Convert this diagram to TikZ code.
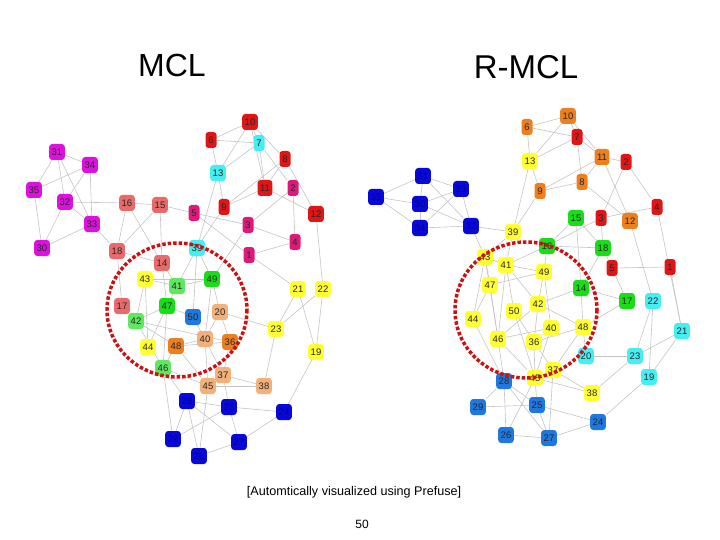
\documentclass[tikz,border=0pt]{standalone}
\usepackage{fontspec}
\setmainfont{Liberation Sans}
\pgfdeclarelayer{bg}
\pgfsetlayers{bg,main}
\definecolor{cmag}{HTML}{DD11DD}
\definecolor{csal}{HTML}{E86A6A}
\definecolor{cred}{HTML}{E01515}
\definecolor{ccya}{HTML}{44EEF2}
\definecolor{ccri}{HTML}{DD1A7A}
\definecolor{cyel}{HTML}{FFFF33}
\definecolor{clgr}{HTML}{60E660}
\definecolor{cgre}{HTML}{18DD18}
\definecolor{cmbl}{HTML}{1E78E0}
\definecolor{clor}{HTML}{F2B07A}
\definecolor{cora}{HTML}{EC7F1F}
\definecolor{cdbl}{HTML}{0808D8}
\definecolor{cedge}{HTML}{C4C4C4}
\definecolor{ccirc}{HTML}{CC1111}
\tikzset{
  gn/.style={rounded corners=3pt, minimum height=16pt, minimum width=11pt, inner xsep=2.5pt, inner ysep=0pt, font=\fontsize{9.5}{10}\selectfont, text=black!85},
  ge/.style={draw=cedge, line width=0.6pt},
  circ/.style={draw=ccirc, line width=3.5pt, dash pattern=on 3.5pt off 2pt},
}
\newcommand{\gnode}[4]{\node[gn, fill=#4] (#1) at (#2) {#3};}
\begin{document}
\begin{tikzpicture}[x=1pt,y=-1pt]
\useasboundingbox (0,0) rectangle (720,540);
\node[font=\fontsize{32}{36}\selectfont] (t1) at (172,65) {MCL};
\node[font=\fontsize{33}{36}\selectfont] (t2) at (526,67) {R-MCL};
\node[font=\fontsize{12.6}{14}\selectfont] (cap) at (354,492) {[Automtically visualized using Prefuse]};
\node[font=\fontsize{12}{14}\selectfont] (pg) at (362,524) {50};

% ---------------- left graph ----------------
\gnode{L31}{57,152}{31}{cmag}
\gnode{L34}{90,165}{34}{cmag}
\gnode{L35}{34,190}{35}{cmag}
\gnode{L32}{65,202}{32}{cmag}
\gnode{L33}{92,224}{33}{cmag}
\gnode{L30}{42,248}{30}{cmag}
\gnode{L16}{127,203}{16}{csal}
\gnode{L15}{160,205}{15}{csal}
\gnode{L18}{117,251}{18}{csal}
\gnode{L14}{162,263}{14}{csal}
\gnode{L17}{122,306}{17}{csal}
\gnode{L10}{250,122}{10}{cred}
\gnode{L6}{211,140}{6}{cred}
\gnode{L7}{259,143}{7}{ccya}
\gnode{L8}{285,159}{8}{cred}
\gnode{L13}{218,173}{13}{ccya}
\gnode{L11}{265,188}{11}{cred}
\gnode{L2}{293,188}{2}{ccri}
\gnode{L9}{224,207}{9}{cred}
\gnode{L12}{316,214}{12}{cred}
\gnode{L5}{194,213}{5}{ccri}
\gnode{L3}{248,225}{3}{ccri}
\gnode{L4}{295,242}{4}{ccri}
\gnode{L39}{197,248}{39}{ccya}
\gnode{L1}{249,255}{1}{ccri}
\gnode{L43}{145,279}{43}{cyel}
\gnode{L41}{177,286}{41}{clgr}
\gnode{L49}{212,279}{49}{cgre}
\gnode{L47}{167,306}{47}{cgre}
\gnode{L50}{193,317}{50}{cmbl}
\gnode{L20}{220,312}{20}{clor}
\gnode{L42}{136,321}{42}{clgr}
\gnode{L44}{148,347}{44}{cyel}
\gnode{L48}{176,346}{48}{cora}
\gnode{L40}{205,339}{40}{clor}
\gnode{L36}{230,342}{36}{cora}
\gnode{L46}{163,368}{46}{clgr}
\gnode{L37}{223,375}{37}{clor}
\gnode{L45}{208,386}{45}{clor}
\gnode{L38}{264,386}{38}{clor}
\gnode{L21}{298,289}{21}{cyel}
\gnode{L22}{323,289}{22}{cyel}
\gnode{L23}{276,329}{23}{cyel}
\gnode{L19}{316,352}{19}{cyel}
\node[gn, fill=cdbl, text=blue!60!black] (L28) at (187,401) {28};
\node[gn, fill=cdbl, text=blue!60!black] (L25) at (229,407) {25};
\node[gn, fill=cdbl, text=blue!60!black] (L24) at (284,412) {24};
\node[gn, fill=cdbl, text=blue!60!black] (L29) at (173,439) {29};
\node[gn, fill=cdbl, text=blue!60!black] (L27) at (239,442) {27};
\node[gn, fill=cdbl, text=blue!60!black] (L26) at (199,456) {26};

% ---------------- right graph ----------------
\node[gn, fill=cdbl, text=blue!60!black] (R31) at (423,176) {31};
\node[gn, fill=cdbl, text=blue!60!black] (R33) at (461,189) {33};
\node[gn, fill=cdbl, text=blue!60!black] (R35) at (376,197) {35};
\node[gn, fill=cdbl, text=blue!60!black] (R30) at (420,204) {30};
\node[gn, fill=cdbl, text=blue!60!black] (R34) at (420,228) {34};
\node[gn, fill=cdbl, text=blue!60!black] (R32) at (471,226) {32};
\gnode{R39}{513,232}{39}{cyel}
\gnode{R10}{568,116}{10}{cora}
\gnode{R6}{527,127}{6}{cora}
\gnode{R7}{577,137}{7}{cred}
\gnode{R11}{602,157}{11}{cora}
\gnode{R2}{626,162}{2}{cred}
\gnode{R13}{530,161}{13}{cyel}
\gnode{R8}{582,182}{8}{cora}
\gnode{R9}{540,191}{9}{cora}
\gnode{R4}{657,207}{4}{cred}
\gnode{R15}{576,218}{15}{cgre}
\gnode{R3}{601,218}{3}{cred}
\gnode{R12}{630,221}{12}{cora}
\gnode{R16}{547,246}{16}{cgre}
\gnode{R18}{603,248}{18}{cgre}
\gnode{R5}{612,268}{5}{cred}
\gnode{R1}{670,267}{1}{cred}
\gnode{R43}{485,257}{43}{cyel}
\gnode{R41}{506,265}{41}{cyel}
\gnode{R49}{544,272}{49}{cyel}
\gnode{R47}{490,285}{47}{cyel}
\gnode{R14}{581,288}{14}{cgre}
\gnode{R17}{627,301}{17}{cgre}
\gnode{R22}{653,301}{22}{ccya}
\gnode{R50}{514,311}{50}{cyel}
\gnode{R42}{538,304}{42}{cyel}
\gnode{R44}{473,319}{44}{cyel}
\gnode{R40}{551,328}{40}{cyel}
\gnode{R48}{583,327}{48}{cyel}
\gnode{R21}{682,331}{21}{ccya}
\gnode{R46}{498,339}{46}{cyel}
\gnode{R36}{534,342}{36}{cyel}
\gnode{R20}{586,356}{20}{ccya}
\gnode{R23}{635,356}{23}{ccya}
\gnode{R37}{553,370}{37}{cyel}
\gnode{R45}{535,378}{45}{cyel}
\gnode{R19}{649,377}{19}{ccya}
\gnode{R38}{592,393}{38}{cyel}
\gnode{R28}{504,381}{28}{cmbl}
\gnode{R29}{478,407}{29}{cmbl}
\gnode{R25}{537,405}{25}{cmbl}
\gnode{R24}{598,422}{24}{cmbl}
\gnode{R26}{506,435}{26}{cmbl}
\gnode{R27}{549,438}{27}{cmbl}

\begin{pgfonlayer}{bg}
\foreach \a/\b in {31/34,31/35,31/32,31/33,34/35,34/32,34/33,35/30,32/30,32/33,32/16,33/30,33/18,16/15,16/18,16/14,15/18,15/14,15/5,
10/6,10/7,10/13,10/11,10/8,7/6,7/13,7/11,7/2,8/9,8/11,8/12,6/13,13/9,13/39,11/9,11/12,2/3,2/4,9/39,5/3,5/1,3/4,3/49,4/1,1/21,12/22,
18/14,18/17,14/43,14/41,14/47,43/41,43/49,43/42,43/44,41/49,41/47,41/39,49/39,49/20,49/40,47/42,47/50,47/46,47/44,42/17,42/48,42/46,42/36,50/40,50/39,20/40,20/36,20/23,48/40,48/36,48/46,48/45,40/37,40/45,36/37,46/45,46/28,37/38,45/38,37/25,
46/29,45/26,28/25,28/27,28/26,28/29,25/24,25/27,25/29,27/26,27/24,24/19,21/23,21/19,22/23,22/19,23/38}
  \draw[ge] (L\a) -- (L\b);
\foreach \a/\b in {31/33,31/35,31/30,31/32,35/30,35/34,30/33,30/32,30/34,34/33,34/32,33/32,32/39,32/43,
10/6,10/13,10/7,10/11,6/7,6/13,7/13,7/8,7/11,11/2,11/8,11/9,11/12,13/9,13/39,9/8,9/39,8/12,2/4,2/3,4/3,4/21,3/18,3/16,15/16,15/18,15/14,12/22,
39/43,39/41,16/49,16/18,16/41,18/5,18/14,5/1,5/17,14/17,14/42,14/48,17/48,1/21,22/23,22/19,21/23,21/19,20/23,20/48,23/38,19/24,
43/41,43/47,43/44,43/46,41/49,41/50,41/46,41/42,49/47,49/42,49/40,47/44,47/46,50/45,50/36,42/46,42/36,42/48,44/28,46/40,46/45,46/28,40/36,40/45,48/36,48/37,36/45,36/37,37/27,37/38,45/38,45/25,45/26,
28/29,28/25,28/26,28/27,29/25,25/27,25/24,26/27,27/24}
  \draw[ge] (R\a) -- (R\b);
\end{pgfonlayer}

\draw[circ] (177,310) ellipse [x radius=70, y radius=67];
\draw[circ] (526,310) ellipse [x radius=71, y radius=68];
\end{tikzpicture}
\end{document}
